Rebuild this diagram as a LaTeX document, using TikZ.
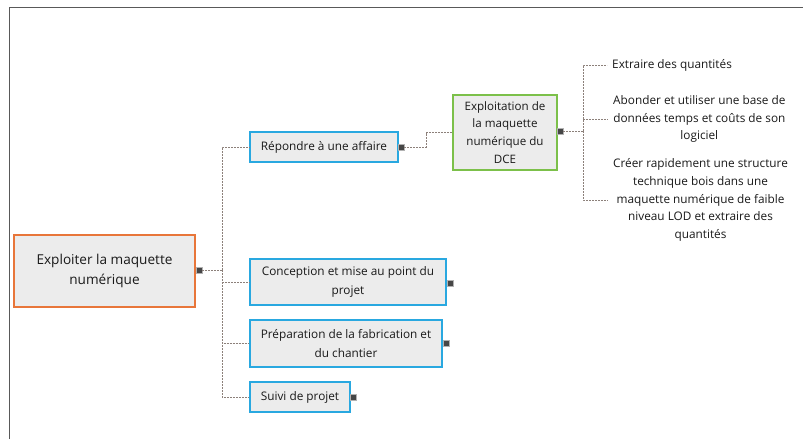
\documentclass[tikz,border=0pt]{standalone}
\usepackage{fontspec}
\setmainfont{Open Sans}
\usepackage{tikz}
\usetikzlibrary{positioning}

\definecolor{boxfill}{RGB}{236,236,236}
\definecolor{rootline}{RGB}{232,118,58}
\definecolor{branchline}{RGB}{41,168,224}
\definecolor{dceline}{RGB}{124,192,74}
\definecolor{linkgray}{RGB}{140,128,122}
\definecolor{markgray}{RGB}{70,70,70}

\begin{document}
\begin{tikzpicture}[x=1pt,y=-1pt]
        % Setup the styles for the boxes and links
        \tikzset{box style/.style={draw,
                                   fill=boxfill,
                                   line width=1.8pt,
                                   align=center,
                                   inner sep=2pt,
                                   text=black!90},
                 root style/.style={box style, draw=rootline, font=\fontsize{13.6}{20}\selectfont},
                 branch style/.style={box style, draw=branchline, font=\fontsize{11.8}{18.5}\selectfont},
                 dce style/.style={box style, draw=dceline, font=\fontsize{11.6}{17.8}\selectfont},
                 leaf style/.style={align=center, inner ysep=1pt, inner xsep=5pt, text=black!90,
                                    font=\fontsize{11.8}{17.6}\selectfont},
                 marker/.style={draw=gray!60, fill=markgray, line width=0.5pt,
                                minimum size=6pt, inner sep=0pt},
                 link/.style={draw=linkgray, line width=0.7pt,
                              dash pattern=on 2pt off 1pt}}

        \useasboundingbox (0,0) rectangle (803,439);

        % Page frame
        \draw[gray!70!black, line width=1pt] (9,439) -- (9,7) -- (803,7);

        % Draw the boxes
        \node[root style, minimum width=181pt, minimum height=72pt] at (104.5,271) (root)
            {Exploiter la maquette\\numérique};
        \node[branch style, minimum width=148pt, minimum height=30pt] at (324,147) (repondre)
            {Répondre à une affaire};
        \node[branch style, minimum width=196pt, minimum height=46pt] at (348,282) (conception)
            {Conception et mise au point du\\projet};
        \node[branch style, minimum width=192pt, minimum height=47pt] at (346,343.5) (preparation)
            {Préparation de la fabrication et\\du chantier};
        \node[branch style, minimum width=100pt, minimum height=30pt] at (300,397) (suivi)
            {Suivi de projet};
        \node[dce style, minimum width=104pt, minimum height=75pt] at (505,132.5) (dce)
            {Exploitation de\\la maquette\\numérique du\\DCE};

        % Leaves
        \node[leaf style, anchor=west] at (607,65) (extraire) {Extraire des quantités};
        \node[leaf style, anchor=west] at (608,119) (abonder)
            {Abonder et utiliser une base de\\données temps et coûts de son\\logiciel};
        \node[leaf style, anchor=west] at (608,200) (creer)
            {Créer rapidement une structure\\technique bois dans une\\maquette numérique de faible\\niveau LOD et extraire des\\quantités};

        % Collapse markers
        \node[marker] at (199,270) (rootm) {};
        \node[marker] at (401,147) (repondrem) {};
        \node[marker] at (450,283) (conceptionm) {};
        \node[marker] at (446,343) (preparationm) {};
        \node[marker] at (353,397) (suivim) {};
        \node[marker] at (560,131) (dcem) {};

        % Junctions
        \coordinate (spine) at (222,270);
        \coordinate (bend) at (426,147);
        \coordinate (dcespine) at (583,131);

        % Connect the boxes
        \draw[link] (rootm.east) -- (spine)
            (spine) |- (repondre.west)
            (spine) |- (conception.west)
            (spine) |- (preparation.west)
            (spine) |- (suivi.west);
        \draw[link] (repondrem.east) -- (bend) |- (dce.west);
        \draw[link] (dcem.east) -- (dcespine)
            (dcespine) |- (extraire.west)
            (dcespine) |- (abonder.west)
            (dcespine) |- (creer.west);
\end{tikzpicture}
\end{document}
